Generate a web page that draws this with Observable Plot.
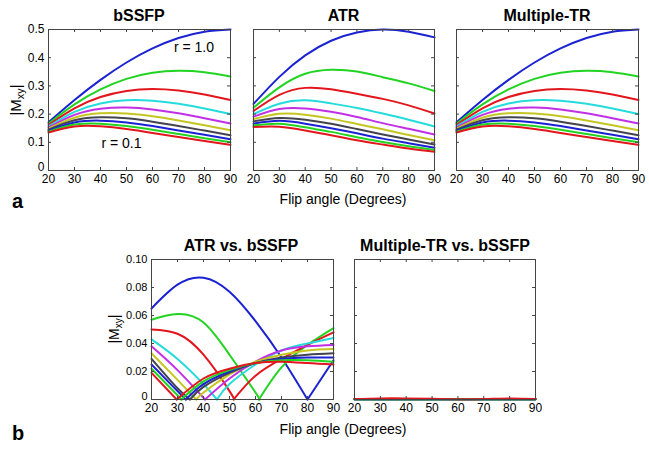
<!DOCTYPE html>
<html><head><meta charset="utf-8">
<script src="https://cdn.jsdelivr.net/npm/d3@7"></script>
<script src="https://cdn.jsdelivr.net/npm/@observablehq/plot@0.6"></script>
<style>
body{margin:0;background:#fff;}
#fig{position:relative;width:649px;height:449px;font-family:"Liberation Sans",Arial,sans-serif;overflow:hidden;background:#fff;}
#fig svg{position:absolute;}
.t{position:absolute;line-height:1;white-space:nowrap;color:#000;}
.c{transform:translateX(-50%);}
.b{font-weight:bold;}
.rot{transform:translate(-50%,-50%) rotate(-90deg);}
sub{font-size:0.72em;vertical-align:-0.28em;line-height:0;}
</style></head><body><div id="fig"></div>
<script>
// ---- data ----
const angles = [20, 30, 40, 50, 60, 70, 80, 90];
const xTicks = [20, 30, 40, 50, 60, 70, 80, 90];
const yTicksTop = [0, 0.1, 0.2, 0.3, 0.4, 0.5];
const yTicksBottom = [0, 0.02, 0.04, 0.06, 0.08, 0.10];
const rValues = [1.0, 0.5, 0.333, 0.25, 0.2, 0.167, 0.143, 0.125, 0.111, 0.1];
const seriesColors = ["#1b22d2", "#22d422", "#e2161c", "#24dcdc", "#c230e6", "#c6c622", "#44444e", "#1b22d2", "#22d422", "#e2161c"];

const bSSFP = [
  [0.1710, 0.2500, 0.3214, 0.3830, 0.4330, 0.4698, 0.4924, 0.5000],
  [0.1660, 0.2343, 0.2877, 0.3250, 0.3464, 0.3535, 0.3484, 0.3333],
  [0.1613, 0.2205, 0.2605, 0.2822, 0.2887, 0.2834, 0.2696, 0.2500],
  [0.1568, 0.2082, 0.2379, 0.2494, 0.2474, 0.2365, 0.2199, 0.2000],
  [0.1526, 0.1972, 0.2189, 0.2234, 0.2165, 0.2029, 0.1856, 0.1667],
  [0.1486, 0.1873, 0.2028, 0.2023, 0.1924, 0.1776, 0.1606, 0.1429],
  [0.1448, 0.1783, 0.1888, 0.1849, 0.1732, 0.1580, 0.1415, 0.1250],
  [0.1412, 0.1702, 0.1767, 0.1702, 0.1575, 0.1422, 0.1265, 0.1111],
  [0.1378, 0.1628, 0.1660, 0.1577, 0.1443, 0.1294, 0.1144, 0.1000],
  [0.1345, 0.1560, 0.1566, 0.1469, 0.1332, 0.1186, 0.1043, 0.0909]
];

const ATR = [
  [0.236, 0.332, 0.408, 0.460, 0.489, 0.500, 0.492, 0.472],
  [0.223, 0.295, 0.343, 0.357, 0.351, 0.331, 0.309, 0.282],
  [0.211, 0.268, 0.293, 0.288, 0.272, 0.254, 0.231, 0.202],
  [0.200, 0.237, 0.249, 0.238, 0.222, 0.202, 0.180, 0.156],
  [0.191, 0.218, 0.220, 0.208, 0.190, 0.168, 0.148, 0.128],
  [0.182, 0.201, 0.198, 0.184, 0.165, 0.146, 0.126, 0.107],
  [0.174, 0.186, 0.180, 0.166, 0.147, 0.128, 0.110, 0.092],
  [0.166, 0.176, 0.166, 0.150, 0.132, 0.113, 0.097, 0.081],
  [0.160, 0.166, 0.153, 0.137, 0.118, 0.101, 0.086, 0.073],
  [0.154, 0.155, 0.142, 0.125, 0.107, 0.092, 0.078, 0.066]
];

const multipleTR = [
  [0.1710, 0.2500, 0.3214, 0.3830, 0.4330, 0.4698, 0.4924, 0.5000],
  [0.1660, 0.2343, 0.2877, 0.3250, 0.3464, 0.3535, 0.3484, 0.3333],
  [0.1613, 0.2205, 0.2605, 0.2822, 0.2887, 0.2834, 0.2696, 0.2500],
  [0.1568, 0.2082, 0.2379, 0.2494, 0.2474, 0.2365, 0.2199, 0.2000],
  [0.1526, 0.1972, 0.2189, 0.2234, 0.2165, 0.2029, 0.1856, 0.1667],
  [0.1486, 0.1873, 0.2028, 0.2023, 0.1924, 0.1776, 0.1606, 0.1429],
  [0.1448, 0.1783, 0.1888, 0.1849, 0.1732, 0.1580, 0.1415, 0.1250],
  [0.1412, 0.1702, 0.1767, 0.1702, 0.1575, 0.1422, 0.1265, 0.1111],
  [0.1378, 0.1628, 0.1660, 0.1577, 0.1443, 0.1294, 0.1144, 0.1000],
  [0.1345, 0.1560, 0.1566, 0.1469, 0.1332, 0.1186, 0.1043, 0.0909]
];

// |ATR - bSSFP|: flip angle where the difference reaches zero, and values at the grid angles
const atrZero = [80, 61.3, 51.6, 45.2, 40.6, 37.2, 34.8, 33.2, 31.4, 29.7];
const atrDiff = [
  [0.065, 0.082, 0.087, 0.077, 0.056, 0.030, 0, 0.028],
  [0.057, 0.061, 0.055, 0.032, 0.005, 0.023, 0.039, 0.051],
  [0.050, 0.047, 0.032, 0.006, 0.017, 0.029, 0.039, 0.048],
  [0.043, 0.029, 0.011, 0.011, 0.025, 0.035, 0.040, 0.044],
  [0.038, 0.021, null, 0.015, 0.027, 0.035, 0.038, 0.039],
  [0.033, 0.014, 0.005, 0.018, 0.027, 0.032, 0.035, 0.036],
  [0.029, 0.008, 0.009, 0.019, 0.026, 0.030, 0.032, 0.033],
  [0.025, 0.006, 0.011, 0.020, 0.026, 0.029, 0.030, 0.030],
  [0.022, 0.003, 0.013, 0.021, 0.026, 0.028, 0.028, 0.027],
  [0.019, null, 0.015, 0.022, 0.026, 0.027, 0.026, 0.025]
];

// |Multiple-TR - bSSFP|: essentially zero
const multiDiff = [
  [0.0002, 0.0002, 0.0002, 0.0002, 0.0002, 0.0002, 0.0002, 0.0002],
  [0.0002, 0.0002, 0.0002, 0.0002, 0.0002, 0.0002, 0.0002, 0.0002],
  [0.0003, 0.0003, 0.0003, 0.0003, 0.0003, 0.0003, 0.0003, 0.0003],
  [0.0002, 0.0002, 0.0002, 0.0002, 0.0002, 0.0002, 0.0002, 0.0002],
  [0.0002, 0.0002, 0.0002, 0.0002, 0.0002, 0.0002, 0.0002, 0.0002],
  [0.0002, 0.0002, 0.0002, 0.0002, 0.0002, 0.0002, 0.0002, 0.0002],
  [0.0002, 0.0002, 0.0002, 0.0002, 0.0002, 0.0002, 0.0002, 0.0002],
  [0.0002, 0.0002, 0.0002, 0.0002, 0.0002, 0.0002, 0.0002, 0.0002],
  [0.0001, 0.0001, 0.0001, 0.0001, 0.0001, 0.0001, 0.0001, 0.0001],
  [0.0003, 0.0008, 0.0008, 0.0005, 0.0002, 0.0003, 0.0008, 0.0004]
];

// ---- build tables ----
function toRows(matrix) {
  const rows = [];
  matrix.forEach((vals, k) => vals.forEach((v, i) => {
    if (v != null) rows.push({angle: angles[i], value: v, key: String(k), color: seriesColors[k]});
  }));
  return rows;
}
function diffRows(matrix, zeros) {
  const rows = [];
  matrix.forEach((vals, k) => {
    const z = zeros[k];
    const pts = angles.map((a, i) => ({a, v: vals[i]})).filter(p => p.v != null);
    const left = pts.filter(p => p.a < z - 0.5).concat([{a: z, v: 0}]);
    const right = [{a: z, v: 0}].concat(pts.filter(p => p.a > z + 0.5));
    [left, right].forEach((seg, s) => {
      if (seg.length < 2) return;
      seg.forEach(p => rows.push({angle: p.a, value: p.v, key: k + "-" + s, color: seriesColors[k]}));
    });
  });
  return rows;
}

const fig = document.getElementById("fig");
const FONT = "'Liberation Sans', Arial, sans-serif";

function panel({x0, x1, y0, y1, rows, yDomain, yTicks, yFormat, showY, yFont}) {
  const mL = showY ? 46 : 4, mR = 4, mT = 4, mB = 20;
  const fw = x1 - x0, fh = y1 - y0;
  const marks = [
    Plot.line(rows, {x: "angle", y: "value", z: "key", stroke: "color", strokeWidth: 2, curve: "natural"}),
    Plot.frame({stroke: "#444", strokeWidth: 1}),
    Plot.tickX(xTicks, {x: d => d, insetTop: fh - 3, stroke: "#444"}),
    Plot.tickX(xTicks, {x: d => d, insetBottom: fh - 3, stroke: "#444"}),
    Plot.tickY(yTicks, {y: d => d, insetRight: fw - 3, stroke: "#444"}),
    Plot.tickY(yTicks, {y: d => d, insetLeft: fw - 3, stroke: "#444"}),
    Plot.axisX({ticks: xTicks, tickSize: 0, tickPadding: 4, label: null, fontSize: 12, tickFormat: d => String(d)})
  ];
  if (showY) {
    marks.push(Plot.axisY({ticks: yTicks.filter(d => d !== 0), tickSize: 0, tickPadding: 4, label: null, fontSize: yFont, tickFormat: yFormat}));
    marks.push(Plot.axisY({ticks: yTicks.filter(d => d === 0), tickSize: 0, tickPadding: 4, label: null, fontSize: yFont, tickFormat: yFormat, dy: -3}));
  }
  const svg = Plot.plot({
    width: fw + mL + mR, height: fh + mT + mB,
    marginLeft: mL, marginRight: mR, marginTop: mT, marginBottom: mB,
    x: {domain: [20, 90]},
    y: {domain: yDomain, axis: showY ? undefined : null},
    color: {type: "identity"},
    style: {fontFamily: FONT, fontSize: "12px", color: "#000", background: "transparent", overflow: "visible"},
    marks
  });
  svg.style.left = (x0 - mL) + "px";
  svg.style.top = (y0 - mT) + "px";
  fig.appendChild(svg);
}

const fmtTop = d => d === 0 ? "0" : d.toFixed(1);
const fmtBot = d => d === 0 ? "0" : d.toFixed(2);

panel({x0: 48, x1: 230, y0: 29, y1: 170, rows: toRows(bSSFP), yDomain: [0, 0.5], yTicks: yTicksTop, yFormat: fmtTop, showY: true, yFont: 12});
panel({x0: 253, x1: 434, y0: 29, y1: 170, rows: toRows(ATR), yDomain: [0, 0.5], yTicks: yTicksTop, yFormat: fmtTop, showY: false});
panel({x0: 456, x1: 638, y0: 29, y1: 170, rows: toRows(multipleTR), yDomain: [0, 0.5], yTicks: yTicksTop, yFormat: fmtTop, showY: false});
panel({x0: 151, x1: 333, y0: 259, y1: 399, rows: diffRows(atrDiff, atrZero), yDomain: [0, 0.1], yTicks: yTicksBottom, yFormat: fmtBot, showY: true, yFont: 11});
panel({x0: 354, x1: 535, y0: 259, y1: 399, rows: toRows(multiDiff), yDomain: [0, 0.1], yTicks: yTicksBottom, yFormat: fmtBot, showY: false});

// ---- text ----
function txt(html, cls, left, baseline, size, extra) {
  const d = document.createElement("div");
  d.className = "t " + cls;
  d.innerHTML = html;
  d.style.fontSize = size + "px";
  d.style.left = left + "px";
  d.style.top = (baseline - 0.8465 * size) + "px";
  if (extra) Object.assign(d.style, extra);
  fig.appendChild(d);
}
function ylab(cx, cy, size) {
  const d = document.createElement("div");
  d.className = "t rot";
  d.innerHTML = "|M<sub>xy</sub>|";
  d.style.fontSize = size + "px";
  d.style.left = cx + "px";
  d.style.top = cy + "px";
  fig.appendChild(d);
}
txt("bSSFP", "c b", 139, 21.5, 16);
txt("ATR", "c b", 343.5, 21.5, 16);
txt("Multiple-TR", "c b", 547, 21.5, 16);
txt("ATR vs. bSSFP", "c b", 241, 252, 16);
txt("Multiple-TR vs. bSSFP", "c b", 445, 252, 16);
txt("r = " + rValues[0].toFixed(1), "c", 194, 51.5, 14);
txt("r = " + rValues[rValues.length - 1].toFixed(1), "c", 121.5, 148, 14);
txt("Flip angle (Degrees)", "c", 343, 204, 14);
txt("Flip angle (Degrees)", "c", 343, 434, 14);
txt("a", "b", 12, 208, 20);
txt("b", "b", 12, 440, 20);
ylab(15, 100, 15);
ylab(114, 329, 14);
</script></body></html>
